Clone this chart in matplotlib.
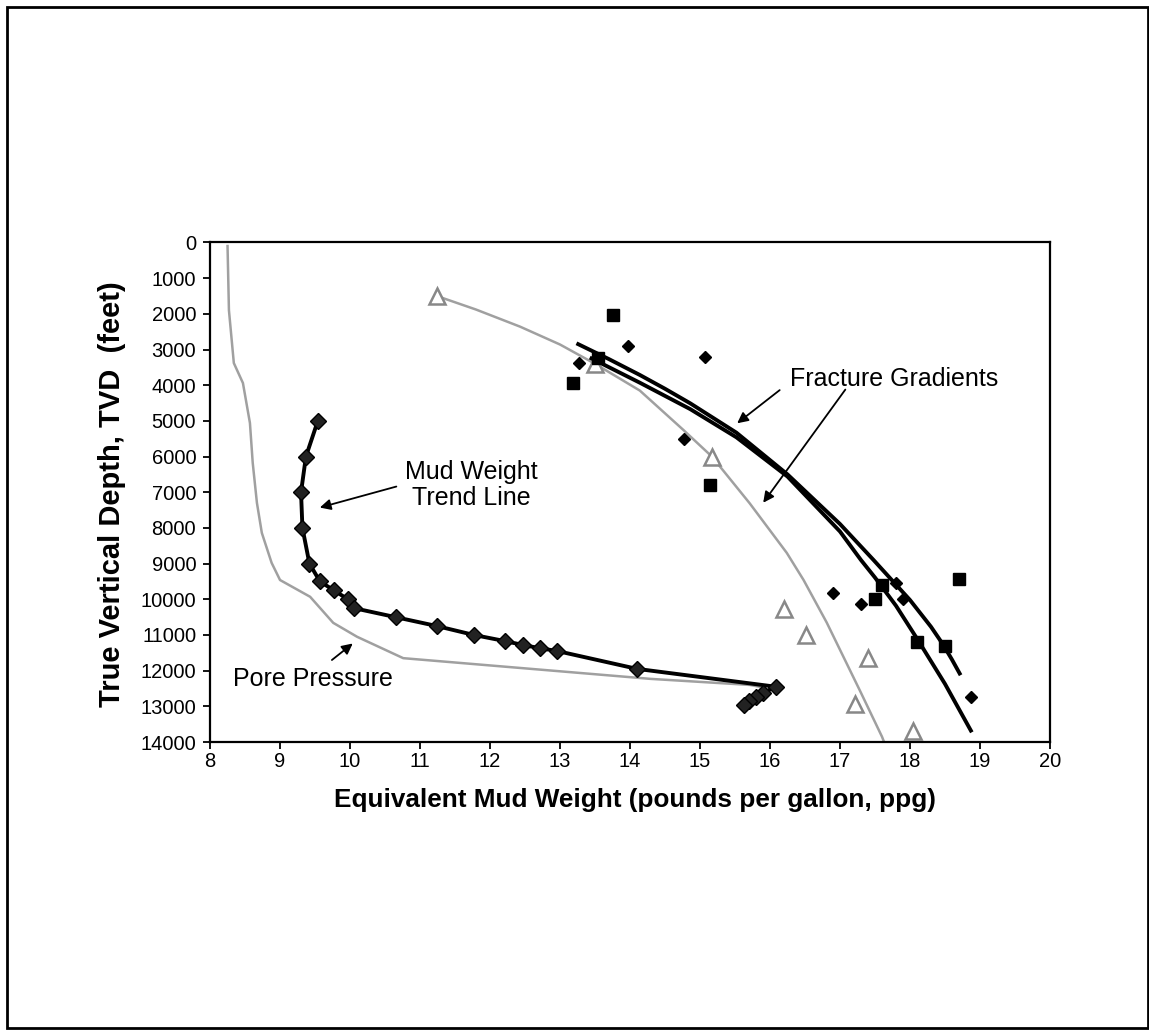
import numpy as np
import matplotlib
matplotlib.use("Agg")
import matplotlib.pyplot as plt
from matplotlib.patches import Rectangle

plt.rcParams["font.family"] = ["Liberation Sans", "DejaVu Sans"]

# Datos (ppg, pies)
pore_ppg = [8.25, 8.26, 8.27, 8.34, 8.47, 8.57, 8.61, 8.67, 8.74, 8.88, 9.0, 9.43, 9.76, 10.10, 10.76, 14.29, 15.71, 15.85]
pore_tvd = [100, 1000, 1900, 3380, 3940, 5060, 6180, 7300, 8140, 8980, 9460, 9930, 10660, 11050, 11650, 12230, 12400, 12450]

mud_ppg = [9.54, 9.37, 9.30, 9.32, 9.42, 9.57, 9.77, 9.97, 10.06, 10.65, 11.24, 11.77, 12.21,
           12.47, 12.71, 12.96, 14.10, 16.08, 15.90, 15.80, 15.70, 15.63]
mud_tvd = [5000, 6000, 7000, 8000, 9000, 9500, 9750, 10000, 10250, 10500, 10750, 11000, 11170,
           11280, 11370, 11450, 11950, 12450, 12630, 12750, 12850, 12960]

# curva gris de gradiente de fractura
frac_gray_ppg = [11.24, 11.8, 12.43, 13.0, 13.5, 14.14, 14.76, 15.17, 15.71, 16.24, 16.48, 16.81, 17.29, 17.6, 17.63]
frac_gray_tvd = [1500, 1880, 2360, 2860, 3400, 4150, 5250, 6000, 7310, 8700, 9460, 10650, 12580, 13850, 14000]

# curvas negras de gradiente de fractura
frac_a_ppg = [13.26, 13.7, 14.14, 14.5, 14.86, 15.52, 16.25, 17.0, 17.48, 18.0, 18.3, 18.47, 18.6, 18.71]
frac_a_tvd = [2850, 3270, 3713, 4100, 4507, 5330, 6500, 7890, 8900, 10020, 10770, 11260, 11690, 12080]
frac_b_ppg = [13.45, 14.14, 14.86, 15.52, 16.25, 17.0, 17.3, 17.5, 17.8, 18.1, 18.5, 18.87]
frac_b_tvd = [3250, 3930, 4670, 5460, 6560, 8100, 8900, 9390, 10180, 11100, 12370, 13680]

# puntos medidos
tri_ppg = [11.24, 13.5, 15.17, 16.20, 16.51, 17.40, 17.21, 18.04]
tri_tvd = [1500, 3400, 6000, 10280, 11000, 11650, 12930, 13680]
sq_ppg = [13.76, 13.18, 13.55, 15.14, 17.60, 17.50, 18.70, 18.10, 18.50]
sq_tvd = [2030, 3950, 3250, 6800, 9600, 10000, 9430, 11200, 11300]
dia_ppg = [13.97, 13.27, 15.07, 14.77, 16.90, 17.30, 17.80, 17.90, 18.87]
dia_tvd = [2900, 3370, 3220, 5510, 9820, 10130, 9550, 10000, 12750]

x_ticks = list(range(8, 21))
y_ticks = list(range(0, 15000, 1000))

fig = plt.figure(figsize=(11.49, 10.30), dpi=100)
ax = fig.add_axes([0.1828, 0.2796, 0.731, 0.485])

gray = "#a0a0a0"
ax.plot(pore_ppg, pore_tvd, color=gray, lw=1.8)
ax.plot(frac_gray_ppg, frac_gray_tvd, color=gray, lw=1.8)
ax.plot(frac_a_ppg, frac_a_tvd, color="black", lw=2.8)
ax.plot(frac_b_ppg, frac_b_tvd, color="black", lw=2.8)
ax.plot(mud_ppg, mud_tvd, color="black", lw=2.8, marker="D", ms=8,
        markerfacecolor="#222222", markeredgecolor="black")

ax.plot(tri_ppg, tri_tvd, ls="none", marker="^", ms=11, markerfacecolor="white",
        markeredgecolor="#888888", markeredgewidth=1.8)
ax.plot(sq_ppg, sq_tvd, ls="none", marker="s", ms=8, color="black")
ax.plot(dia_ppg, dia_tvd, ls="none", marker="D", ms=6.5, color="black")

ax.set_xlim(8, 20)
ax.set_ylim(14000, 0)
ax.set_xticks(x_ticks)
ax.set_yticks(y_ticks)
ax.tick_params(labelsize=14.5, direction="out", length=5, width=1.3, pad=2)
ax.tick_params(axis="y", pad=5)
for s in ax.spines.values():
    s.set_linewidth(1.6)

# titulos de ejes
fig.text(635 / 1149, 1 - 800 / 1030, "Equivalent Mud Weight (pounds per gallon, ppg)",
         fontsize=18.8, fontweight="bold", ha="center", va="center")
fig.text(112 / 1149, 1 - 494 / 1030, "True Vertical Depth, TVD  (feet)",
         fontsize=21, fontweight="bold", ha="center", va="center", rotation=90)

# anotaciones con flechas
arrow = dict(arrowstyle="-|>", color="black", lw=1.3, mutation_scale=16)
ax.text(11.74, 6800, "Mud Weight\nTrend Line", fontsize=18, ha="center", va="center",
        linespacing=1.1)
ax.annotate("", xy=(9.53, 7450), xytext=(10.70, 6820), arrowprops=arrow)
ax.text(9.47, 12230, "Pore Pressure", fontsize=18, ha="center", va="center")
ax.annotate("", xy=(10.07, 11190), xytext=(9.71, 11750), arrowprops=arrow)
ax.text(17.77, 3830, "Fracture Gradients", fontsize=18, ha="center", va="center")
ax.annotate("", xy=(15.50, 5115), xytext=(16.17, 4090), arrowprops=arrow)
ax.annotate("", xy=(15.88, 7357), xytext=(17.10, 4060), arrowprops=arrow)

# marco de la pagina
fig.patches.append(Rectangle((7 / 1149, 2 / 1030), 1141 / 1149, 1021 / 1030,
                             transform=fig.transFigure, fill=False,
                             edgecolor="black", lw=2))

fig.savefig("out.png", dpi=100)
